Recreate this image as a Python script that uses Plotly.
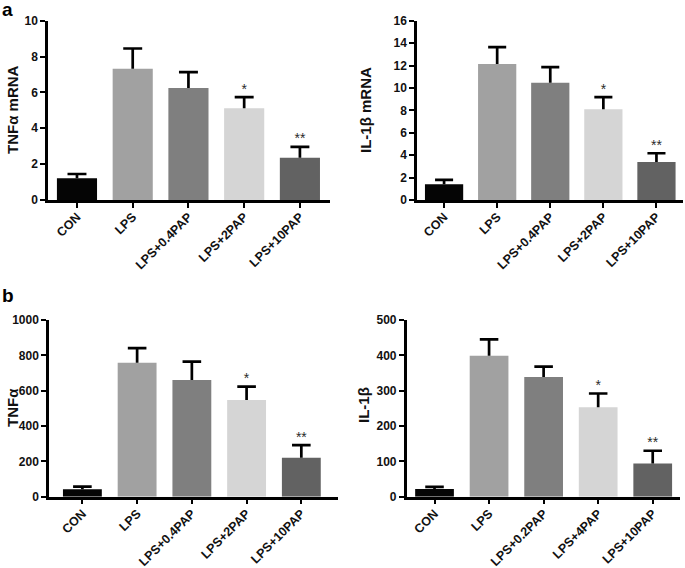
import plotly.graph_objects as go

# ---------------- data ----------------
cats_a = ["CON", "LPS", "LPS+0.4PAP", "LPS+2PAP", "LPS+10PAP"]
cats_b_tnf = ["CON", "LPS", "LPS+0.4PAP", "LPS+2PAP", "LPS+10PAP"]
cats_b_il1b = ["CON", "LPS", "LPS+0.2PAP", "LPS+4PAP", "LPS+10PAP"]

tnf_mrna = [1.21, 7.32, 6.24, 5.12, 2.36]
tnf_mrna_err = [0.24, 1.13, 0.89, 0.62, 0.60]
il1b_mrna = [1.40, 12.13, 10.46, 8.10, 3.40]
il1b_mrna_err = [0.39, 1.52, 1.40, 1.08, 0.77]
tnf_prot = [42, 758, 660, 547, 221]
tnf_prot_err = [15, 83, 104, 76, 71]
il1b_prot = [22, 399, 339, 253, 94]
il1b_prot_err = [6, 46, 29, 39, 36]

signif = ["", "", "", "*", "**"]
bar_colors = ["#050505", "#a1a1a1", "#7f7f7f", "#d5d5d5", "#626262"]

W, H = 685, 568
FONT = "Arial, Liberation Sans, sans-serif"
CAP = 0.17  # half cap width in category units

def px_x(a, b):
    return [a / W, b / W]

def px_y(top, bottom):
    return [1 - bottom / H, 1 - top / H]

panels = [
    dict(cats=cats_a, vals=tnf_mrna, err=tnf_mrna_err, title="TNFα mRNA",
         xd=px_x(48, 330), yd=px_y(20.7, 200), xr=[-0.52, 4.54], yr=[0, 10], dt=2, w=0.72,
         tx=13, ty=110),
    dict(cats=cats_a, vals=il1b_mrna, err=il1b_mrna_err, title="IL-1β mRNA",
         xd=px_x(417, 683), yd=px_y(20.7, 200), xr=[-0.51, 4.5], yr=[0, 16], dt=2, w=0.72,
         tx=366, ty=110),
    dict(cats=cats_b_tnf, vals=tnf_prot, err=tnf_prot_err, title="TNFα",
         xd=px_x(49, 338), yd=px_y(320, 496.7), xr=[-0.61, 4.67], yr=[0, 1000], dt=200, w=0.71,
         tx=12, ty=408),
    dict(cats=cats_b_il1b, vals=il1b_prot, err=il1b_prot_err, title="IL-1β",
         xd=px_x(406.7, 680), yd=px_y(320, 496.7), xr=[-0.51, 4.5], yr=[0, 500], dt=100, w=0.71,
         tx=363, ty=405),
]

fig = go.Figure()
layout = {}
annotations = []
for i, p in enumerate(panels, start=1):
    xa = "x" if i == 1 else f"x{i}"
    ya = "y" if i == 1 else f"y{i}"
    pos = list(range(len(p["cats"])))
    fig.add_trace(go.Bar(
        x=pos, y=p["vals"], xaxis=xa, yaxis=ya,
        marker=dict(color=bar_colors, line=dict(width=0)),
        width=p["w"], showlegend=False, hoverinfo="skip",
    ))
    # upper-only error bars (stem + cap), built from the data
    ex, ey = [], []
    for k, (v, e) in enumerate(zip(p["vals"], p["err"])):
        ex += [k, k, None, k - CAP, k + CAP, None]
        ey += [v, v + e, None, v + e, v + e, None]
    fig.add_trace(go.Scatter(
        x=ex, y=ey, xaxis=xa, yaxis=ya, mode="lines",
        line=dict(color="black", width=2.7),
        showlegend=False, hoverinfo="skip", connectgaps=False,
    ))
    tops = [v + e for v, e in zip(p["vals"], p["err"])]
    fig.add_trace(go.Scatter(
        x=pos, y=tops, xaxis=xa, yaxis=ya, mode="text",
        text=signif, textposition="top center",
        textfont=dict(family=FONT, size=14, color="#2a2a2a"),
        showlegend=False, hoverinfo="skip",
    ))
    xkey = "xaxis" if i == 1 else f"xaxis{i}"
    ykey = "yaxis" if i == 1 else f"yaxis{i}"
    layout[xkey] = dict(
        domain=p["xd"], anchor=ya, range=p["xr"],
        tickmode="array", tickvals=pos, ticktext=p["cats"],
        showline=True, linecolor="black", linewidth=2.5,
        ticks="outside", ticklen=5, tickwidth=2, tickcolor="black",
        tickangle=-45, ticklabelstandoff=-3,
        showgrid=False, zeroline=False, automargin=False,
        tickfont=dict(family=FONT, size=12.5, color="#111111", weight="bold"),
    )
    layout[ykey] = dict(
        domain=p["yd"], anchor=xa, range=p["yr"], dtick=p["dt"],
        showline=True, linecolor="black", linewidth=2.5,
        ticks="outside", ticklen=5, tickwidth=2, tickcolor="black",
        showgrid=False, zeroline=False, automargin=False,
        tickfont=dict(family=FONT, size=12, color="#111111", weight="bold"),
    )
    annotations.append(dict(
        text=f"<b>{p['title']}</b>", x=p["tx"] / W, y=1 - p["ty"] / H,
        xref="paper", yref="paper", xanchor="center", yanchor="middle",
        textangle=-90, showarrow=False,
        font=dict(family=FONT, size=15, color="#111111"),
    ))

annotations += [
    dict(text="<b>a</b>", x=0, y=1 + 3 / H, xref="paper", yref="paper",
         xanchor="left", yanchor="top", showarrow=False,
         font=dict(family=FONT, size=19, color="black")),
    dict(text="<b>b</b>", x=0, y=1 - 283 / H, xref="paper", yref="paper",
         xanchor="left", yanchor="top", showarrow=False,
         font=dict(family=FONT, size=19, color="black")),
]

fig.update_layout(
    template="none",
    width=W, height=H, margin=dict(l=0, r=0, t=0, b=0, pad=0),
    paper_bgcolor="white", plot_bgcolor="white",
    annotations=annotations,
    **layout,
)

fig.write_html(
    "out.html",
    config={"displayModeBar": False},
    post_script="document.body.style.margin='0px';document.body.style.overflow='hidden';",
)
